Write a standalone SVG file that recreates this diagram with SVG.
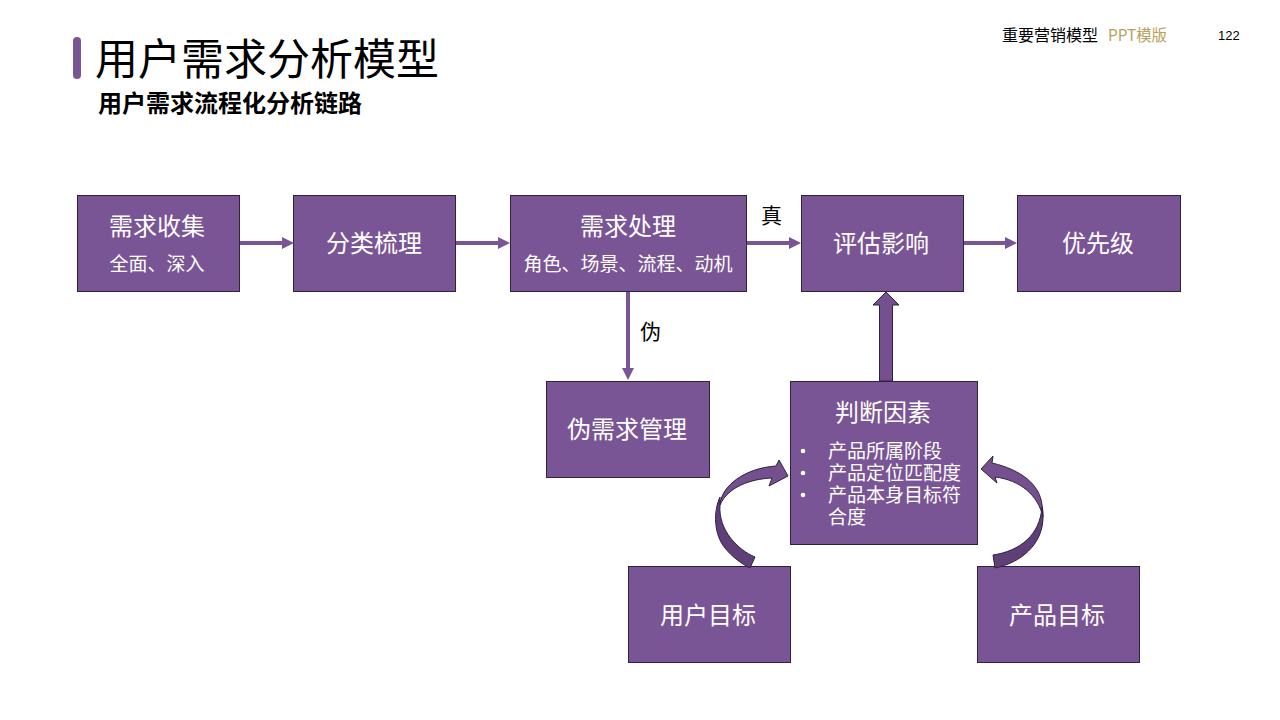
<svg xmlns="http://www.w3.org/2000/svg" width="1280" height="720" viewBox="0 0 1280 720">
<style>
text{font-family:"Noto Sans CJK SC","Liberation Sans",sans-serif}
.box{fill:#7a5595;stroke:#2f2140;stroke-width:1}
.w{fill:#fff;text-anchor:middle}
.t24{font-size:24px}
.t18{font-size:19px}
.li{fill:#fff;font-size:19px}
.k{fill:#000;font-size:21px}
.ln{stroke:#7a5595;stroke-width:4;fill:none}
.hd{fill:#7a5595}
.cv{fill:#75508f;stroke:#2f2140;stroke-width:1}
.cvd{fill:#5e3f78;stroke:#2f2140;stroke-width:1}
</style>
<rect width="1280" height="720" fill="#fff"/>
<g id="header">
<rect x="73" y="37" width="8" height="42" rx="4" fill="#7a5595"/>
<text x="95" y="75" font-size="43" fill="#000" textLength="344" lengthAdjust="spacingAndGlyphs">用户需求分析模型</text>
<text x="98" y="112" font-size="24" font-weight="700" fill="#000" textLength="264" lengthAdjust="spacingAndGlyphs">用户需求流程化分析链路</text>
<text x="1002" y="41" font-size="16" fill="#000" textLength="96">重要营销模型</text>
<text x="1108" y="41" font-size="16" fill="#b9a15c" textLength="59" lengthAdjust="spacingAndGlyphs">PPT模版</text>
<text x="1218" y="40" font-size="13" fill="#000" style="font-family:'Liberation Sans',sans-serif">122</text>
</g>
<g id="n1"><rect class="box" x="77.500" y="195.500" width="162" height="96"/><text class="w t24" x="157" y="235">需求收集</text><text class="w t18" x="157" y="271">全面、深入</text></g>
<g id="n2"><rect class="box" x="293.500" y="195.500" width="162" height="96"/><text class="w t24" x="374" y="252">分类梳理</text></g>
<g id="n3"><rect class="box" x="510.500" y="195.500" width="236" height="96"/><text class="w t18" x="628" y="271">角色、场景、流程、动机</text><text class="w t24" x="628" y="235">需求处理</text></g>
<g id="n4"><rect class="box" x="801.500" y="195.500" width="162" height="96"/><text class="w t24" x="881" y="252">评估影响</text></g>
<g id="n5"><rect class="box" x="1017.500" y="195.500" width="163" height="96"/><text class="w t24" x="1098" y="252">优先级</text></g>
<g id="n6"><rect class="box" x="546.500" y="381.500" width="163" height="96"/><text class="w t24" x="627" y="438">伪需求管理</text></g>
<g id="n7"><rect class="box" x="790.500" y="381.500" width="187" height="163"/><text class="w t24" x="883" y="421">判断因素</text>
<circle cx="803" cy="451" r="2.300" fill="#fff"/><circle cx="803" cy="473" r="2.300" fill="#fff"/><circle cx="803" cy="495" r="2.300" fill="#fff"/>
<text class="li" x="828" y="458">产品所属阶段</text><text class="li" x="828" y="480">产品定位匹配度</text><text class="li" x="828" y="502">产品本身目标符</text><text class="li" x="828" y="524">合度</text></g>
<g id="n8"><rect class="box" x="628.500" y="566.500" width="162" height="96"/><text class="w t24" x="708" y="624">用户目标</text></g>
<g id="n9"><rect class="box" x="977.500" y="566.500" width="162" height="96"/><text class="w t24" x="1057" y="624">产品目标</text></g>
<g id="connectors">
<path class="ln" d="M240 243H284"/><path class="hd" d="M294 243l-12-6v12z"/>
<path class="ln" d="M456 243H500"/><path class="hd" d="M510 243l-12-6v12z"/>
<path class="ln" d="M747 243H791"/><path class="hd" d="M801 243l-12-6v12z"/>
<path class="ln" d="M964 243H1007"/><path class="hd" d="M1017 243l-12-6v12z"/>
<path class="ln" d="M628 292V370"/><path class="hd" d="M628 380l-6-12h12z"/>
<path class="cv" d="M879.500 381V305H873L886 292L899 305H892.500V381Z"/>
<path class="cv" d="M788 476L769 486L772 478C750 479 728 487 720 505C721 486 745 468 776 466L779 460Z"/>
<path class="cvd" d="M720 497C713 512 714 535 725 548C732 557 742 564 750 568L755 557C738 550 718 530 720 505C720 502 720 500 720 497Z"/>
<path class="cv" d="M981 469L993 456L992 463C1022 470 1040 485 1042 505C1043 510 1043 514 1043 517C1038 495 1020 480 995 477L997 483Z"/>
<path class="cvd" d="M1043 517C1043 545 1020 563 995 568L993 555C1020 551 1040 535 1042 507Z"/>
</g>
<g id="labels"><text class="k" x="761" y="223">真</text><text class="k" x="640" y="339">伪</text></g>
</svg>
